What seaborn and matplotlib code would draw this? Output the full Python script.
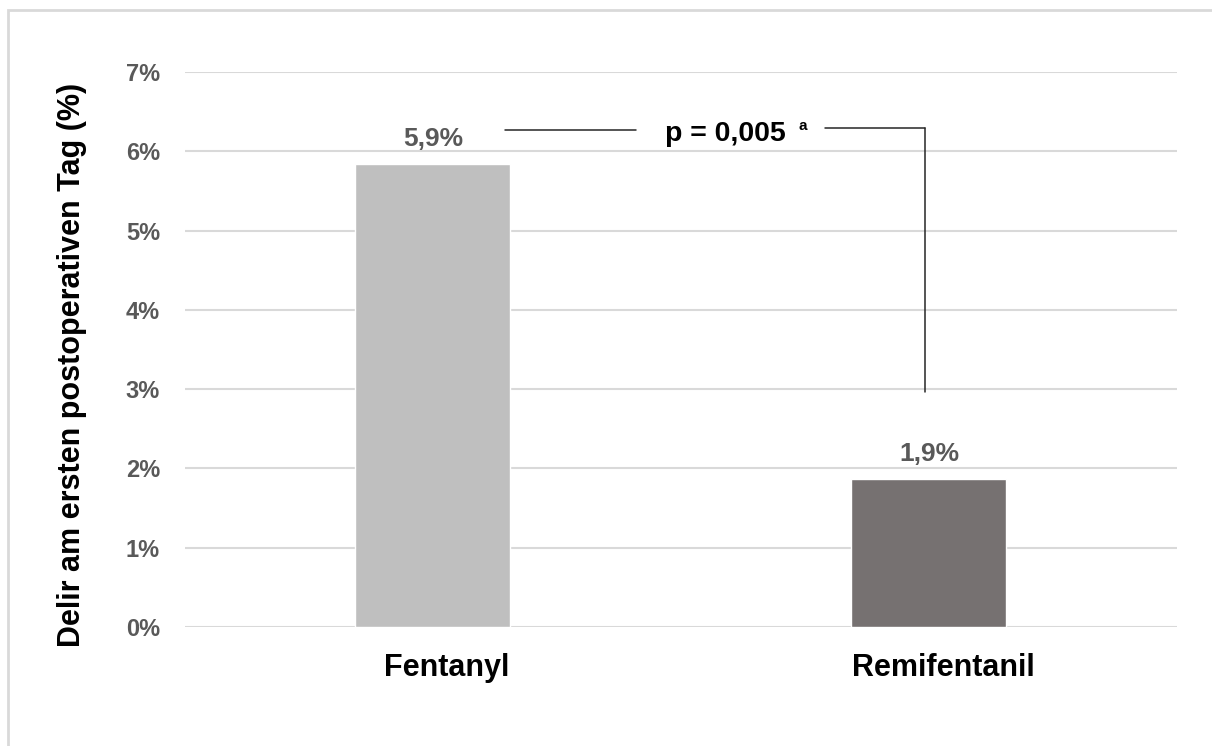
import numpy as np
import pandas as pd
import matplotlib
matplotlib.use('Agg')
import matplotlib.pyplot as plt
import matplotlib.patches as patches
import matplotlib.transforms as mtransforms
import seaborn as sns

# data
groups = ['Fentanyl', 'Remifentanil']
delir_pct = [5.84, 1.87]
value_labels = ['5,9%', '1,9%']
bar_colors = ['#BFBFBF', '#767171']
y_ticks = [0, 1, 2, 3, 4, 5, 6, 7]
p_text = 'p = 0,005'

df = pd.DataFrame({'group': groups, 'pct': delir_pct})

sns.set_theme(style='white')
plt.rcParams['font.family'] = ['Liberation Sans', 'DejaVu Sans']
plt.rcParams['font.weight'] = 'bold'

fig = plt.figure(figsize=(12.12, 7.46), dpi=100)
ax = fig.add_axes([0.1526, 0.1595, 0.8185, 0.744])

sns.barplot(data=df, x='group', y='pct', hue='group', palette=dict(zip(groups, bar_colors)),
            width=0.3125, legend=False, ax=ax, saturation=1)

ax.set_ylim(0, 7)
ax.set_xlim(-0.5, 1.5)
ax.set_yticks(y_ticks)
ax.set_yticklabels([f'{t}%' for t in y_ticks], color='#595959', fontsize=17, fontweight='bold')
ax.tick_params(axis='y', length=0, pad=18)
ax.tick_params(axis='x', length=0, pad=19)
shift = mtransforms.ScaledTranslation(0.14, 0, fig.dpi_scale_trans)
for lab in ax.get_xticklabels():
    lab.set_fontsize(22)
    lab.set_fontweight('bold')
    lab.set_color('black')
    lab.set_transform(lab.get_transform() + shift)
ax.yaxis.grid(True, color='#D9D9D9', linewidth=1.5)
ax.set_axisbelow(True)
for s in ax.spines.values():
    s.set_visible(False)

ax.set_xlabel('')
ax.set_ylabel('Delir am ersten postoperativen Tag (%)', fontsize=22, fontweight='bold', color='black')
ax.yaxis.set_label_coords(-0.099, 0.472)

# value labels above bars
for i, (v, lab) in enumerate(zip(delir_pct, value_labels)):
    ax.annotate(lab, (i, v), xytext=(0, 13), textcoords='offset points', ha='center', va='baseline',
                fontsize=19, fontweight='bold', color='#595959')

# significance bracket
line_kw = dict(color='#262626', linewidth=1.1)
ax.plot([0.145, 0.409], [6.27, 6.27], **line_kw)
ax.plot([0.790, 0.993], [6.29, 6.29], **line_kw)
ax.plot([0.993, 0.993], [6.29, 2.96], **line_kw)
ax.text(0.59, 6.22, p_text, ha='center', va='center', fontsize=20.5, fontweight='bold', color='black')
ax.text(0.746, 6.32, 'a', ha='center', va='center', fontsize=11, fontweight='bold', color='black')

# light frame around the chart
fig.add_artist(patches.Rectangle((8 / 1212, -0.1), 1.5, 1.1 - 10 / 746, transform=fig.transFigure,
                                 fill=False, edgecolor='#D9D9D9', linewidth=2))

fig.savefig('out.png', dpi=100)
